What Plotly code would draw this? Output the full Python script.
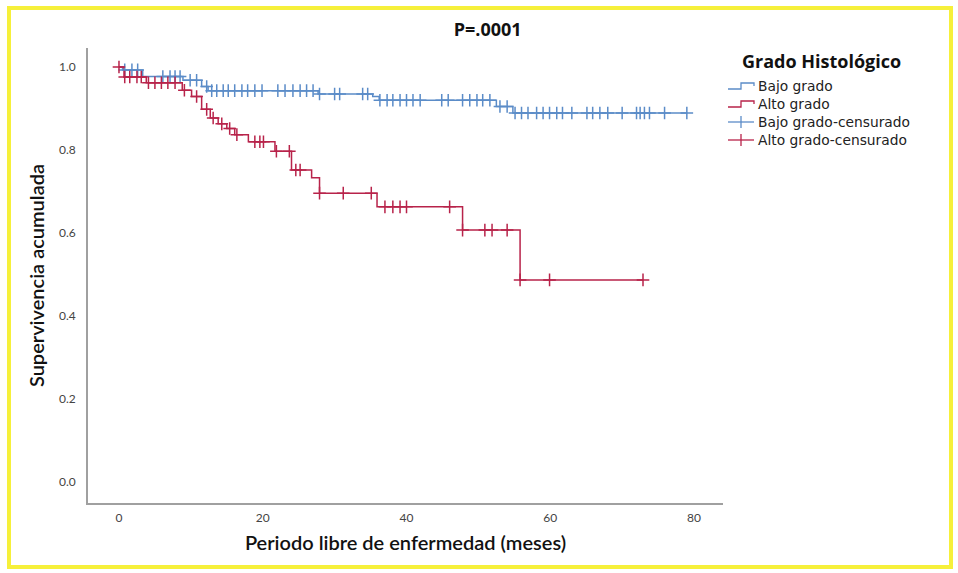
import plotly.graph_objects as go
import numpy as np

# Kaplan-Meier step data (time in months, survival after the step)
bajo_t = [0, 0.5, 3.3, 8.9, 11.5, 12.4, 27.7, 35.3, 36.2, 52.5, 54.8, 79.0]
bajo_s = [1.0, 0.993, 0.977, 0.968, 0.953, 0.943, 0.935, 0.929, 0.920, 0.905, 0.889, 0.889]

alto_t = [0, 0.7, 3.8, 8.8, 10.1, 11.5, 12.7, 13.8, 15.0, 16.1, 18.0, 21.7, 24.0, 26.8, 27.9, 35.9, 47.8, 55.8, 72.9]
alto_s = [1.0, 0.976, 0.962, 0.944, 0.929, 0.898, 0.877, 0.863, 0.852, 0.837, 0.820, 0.797, 0.752, 0.733, 0.696, 0.663, 0.607, 0.487, 0.487]

# Censoring times
bajo_cens = [0.8, 1.8, 2.6, 6.1, 7.1, 7.8, 8.5, 9.9, 10.8, 12.2, 12.9, 13.6, 14.5, 15.2, 16.1, 17.1,
             17.9, 18.9, 19.9, 22.1, 23.1, 24.2, 25.2, 26.1, 27.0, 27.9, 30.0, 30.7, 33.9, 34.6,
             36.3, 37.3, 38.1, 39.1, 40.0, 40.9, 41.9, 44.9, 45.8, 47.8, 48.8, 49.8, 50.6, 51.6,
             53.0, 54.0, 55.1, 56.0, 56.9, 58.1, 59.0, 59.9, 60.9, 61.7, 63.0, 65.1, 65.9, 66.9,
             68.0, 70.0, 72.0, 72.5, 73.1, 73.8, 75.9, 79.0]
alto_cens = [0, 0.8, 1.5, 2.5, 3.1, 4.1, 5.0, 5.9, 6.8, 7.8, 9.1, 10.8, 12.2, 13.1, 14.3, 15.4, 16.4,
             18.9, 19.6, 20.1, 21.9, 23.7, 24.6, 25.2, 27.9, 31.2, 35.1, 37.0, 38.1, 39.1, 40.0,
             46.0, 47.8, 50.9, 51.9, 54.0, 55.8, 59.9, 72.9]

x_ticks = [0, 20, 40, 60, 80]
y_ticks = [0.0, 0.2, 0.4, 0.6, 0.8, 1.0]

legend_title = "Grado Histológico"
legend_names = ["Bajo grado", "Alto grado", "Bajo grado-censurado", "Alto grado-censurado"]

BLUE = "#5b8cc8"
RED = "#b8234a"
LEG_COLORS = [BLUE, RED, BLUE, RED]


def surv_at(times, surv, tc):
    idx = np.searchsorted(np.array(times), tc, side="right") - 1
    return [surv[max(i, 0)] for i in idx]


fig = go.Figure()
fig.add_trace(go.Scatter(x=bajo_t, y=bajo_s, mode="lines", line=dict(shape="hv", color=BLUE, width=1.5),
                         name=legend_names[0], showlegend=False))
fig.add_trace(go.Scatter(x=alto_t, y=alto_s, mode="lines", line=dict(shape="hv", color=RED, width=1.5),
                         name=legend_names[1], showlegend=False))
fig.add_trace(go.Scatter(x=bajo_cens, y=surv_at(bajo_t, bajo_s, bajo_cens), mode="markers",
                         marker=dict(symbol="cross-thin", size=9, line=dict(color=BLUE, width=1.5)),
                         name=legend_names[2], showlegend=False))
fig.add_trace(go.Scatter(x=alto_cens, y=surv_at(alto_t, alto_s, alto_cens), mode="markers",
                         marker=dict(symbol="cross-thin", size=9, line=dict(color=RED, width=1.5)),
                         name=legend_names[3], showlegend=False))

FONT = "Lato"
LFONT = "Open Sans"
IFONT = "DejaVu Sans"

# plot area in pixels: x 88..723, y 48..503
L, R, T, B = 88, 723, 48, 503


def xp(px):
    return (px - L) / (R - L)


def yp(py):
    return (B - py) / (B - T)


fig.update_layout(
    width=958, height=573,
    margin=dict(l=L, r=958 - R, t=T, b=573 - B),
    paper_bgcolor="white", plot_bgcolor="white",
    font=dict(family=FONT, color="#222"),
    title=dict(text="<b>P=.0001</b>", x=0.509, xref="container", xanchor="center", y=1 - 30 / 573,
               yref="container", yanchor="middle", font=dict(size=18, family=LFONT, color="#111")),
    showlegend=False,
    xaxis=dict(range=[-4.31, 84.03], tickvals=x_ticks, ticktext=[str(v) for v in x_ticks],
               showgrid=False, zeroline=False, showline=True, linecolor="#a0a0a0", linewidth=1.5,
               ticks="", tickfont=dict(size=12, family=FONT, color="#444"), ticklabelstandoff=3,
               title=dict(text="Periodo libre de enfermedad (meses)", standoff=12,
                          font=dict(size=20, family=FONT, color="#111", weight=600))),
    yaxis=dict(range=[-0.0506, 1.0458], tickvals=y_ticks, ticktext=[f"{v:.1f}" for v in y_ticks],
               showgrid=False, zeroline=False, showline=True, linecolor="#a0a0a0", linewidth=1.5,
               ticks="", tickfont=dict(size=12, family=FONT, color="#444"), ticklabelstandoff=8,
               title=dict(text="Supervivencia acumulada", standoff=9,
                          font=dict(size=20, family=FONT, color="#111", weight=600))),
)

# legend (drawn by hand to match item spacing)
fig.add_annotation(text="<b>" + legend_title + "</b>", xref="paper", yref="paper", x=xp(741), y=yp(61),
                   xanchor="left", yanchor="middle", showarrow=False, borderpad=0,
                   font=dict(size=18, family=LFONT, color="#111"))
for i, (name, col) in enumerate(zip(legend_names, LEG_COLORS)):
    cy = 86 + 18 * i
    fig.add_annotation(text=name, xref="paper", yref="paper", x=xp(757), y=yp(cy), xanchor="left",
                       yanchor="middle", showarrow=False, borderpad=0,
                       font=dict(size=13.8, family=IFONT, color="#222"))
    if i < 2:
        path = (f"M {xp(728)} {yp(cy + 3)} L {xp(741)} {yp(cy + 3)} L {xp(741)} {yp(cy - 3)} "
                f"L {xp(754)} {yp(cy - 3)} L {xp(754)} {yp(cy)}")
        fig.add_shape(type="path", xref="paper", yref="paper", path=path, line=dict(color=col, width=1.3))
    else:
        fig.add_shape(type="line", xref="paper", yref="paper", x0=xp(728), x1=xp(754), y0=yp(cy), y1=yp(cy),
                      line=dict(color=col, width=1.3))
        fig.add_shape(type="line", xref="paper", yref="paper", x0=xp(741), x1=xp(741), y0=yp(cy - 6),
                      y1=yp(cy + 6), line=dict(color=col, width=1.3))

# yellow frame around the figure
fig.add_shape(type="rect", xref="paper", yref="paper",
              x0=xp(9), x1=xp(951), y0=yp(567), y1=yp(8),
              line=dict(color="#f6f03a", width=4), fillcolor="rgba(0,0,0,0)", layer="below")

fig.write_html("out.html")
